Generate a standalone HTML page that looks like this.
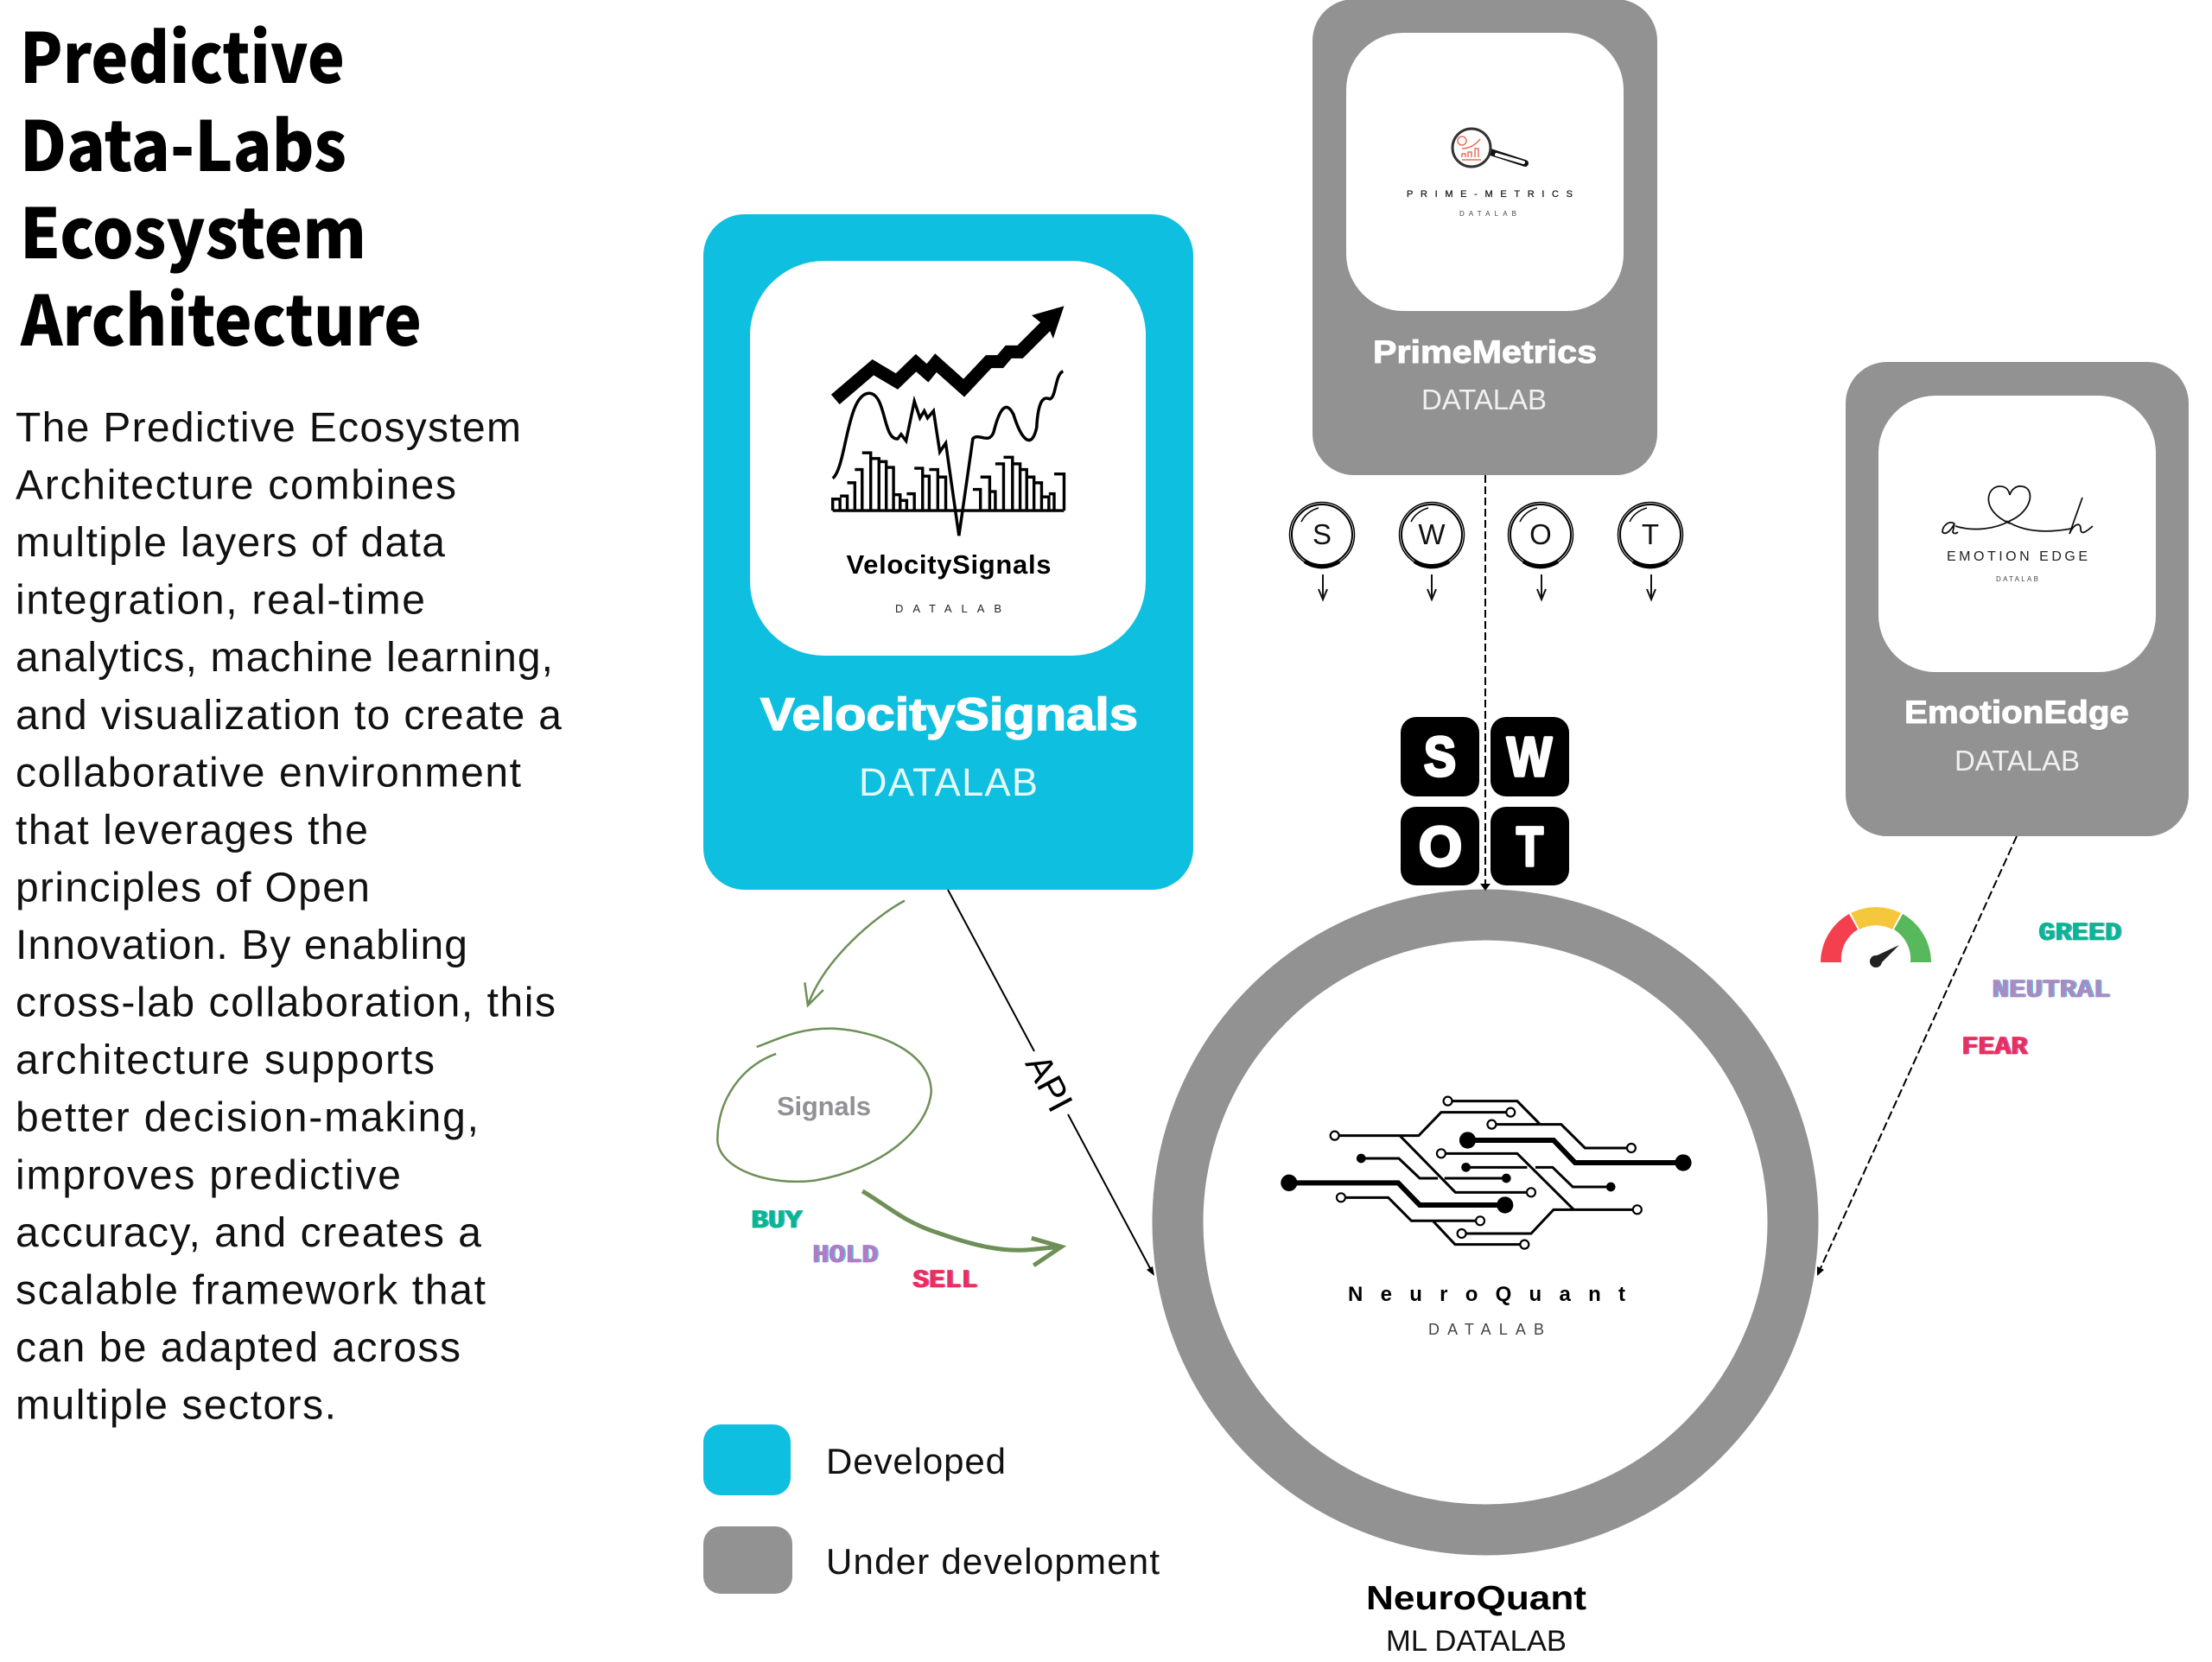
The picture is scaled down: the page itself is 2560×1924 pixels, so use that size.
<!DOCTYPE html>
<html><head><meta charset="utf-8"><style>
html,body{margin:0;padding:0;background:#fff;width:2560px;height:1924px;overflow:hidden}
svg{display:block}
text{font-family:"Liberation Sans",sans-serif}
.t{font-family:"Noto Sans CJK JP","Liberation Sans",sans-serif;font-weight:900;font-size:80px;fill:#000}
.b{font-size:48px;fill:#111}
.px{font-family:"Liberation Mono",monospace;font-weight:700;stroke-width:.8px}
.ns{vector-effect:non-scaling-stroke}
</style></head><body>
<svg xmlns="http://www.w3.org/2000/svg" width="2560" height="1924" viewBox="0 0 2560 1924">
<rect width="2560" height="1924" fill="#fff"/>
<!-- title -->
<text class="t" x="23" y="96" textLength="376" lengthAdjust="spacingAndGlyphs">Predictive</text>
<text class="t" x="23" y="198" textLength="378" lengthAdjust="spacingAndGlyphs">Data-Labs</text>
<text class="t" x="23" y="299" textLength="401" lengthAdjust="spacingAndGlyphs">Ecosystem</text>
<text class="t" x="24" y="400" textLength="464" lengthAdjust="spacingAndGlyphs">Architecture</text>
<!-- body -->
<g class="b">
<text class="b" x="18" y="511" textLength="585">The Predictive Ecosystem</text>
<text class="b" x="18" y="577.6" textLength="510">Architecture combines</text>
<text class="b" x="18" y="644.1" textLength="497">multiple layers of data</text>
<text class="b" x="18" y="710.7" textLength="474">integration, real-time</text>
<text class="b" x="18" y="777.2" textLength="622">analytics, machine learning,</text>
<text class="b" x="18" y="843.8" textLength="632">and visualization to create a</text>
<text class="b" x="18" y="910.4" textLength="585">collaborative environment</text>
<text class="b" x="18" y="976.9" textLength="408">that leverages the</text>
<text class="b" x="18" y="1043.5" textLength="410">principles of Open</text>
<text class="b" x="18" y="1110" textLength="523">Innovation. By enabling</text>
<text class="b" x="18" y="1176.6" textLength="625">cross-lab collaboration, this</text>
<text class="b" x="18" y="1243.2" textLength="485">architecture supports</text>
<text class="b" x="18" y="1309.7" textLength="536">better decision-making,</text>
<text class="b" x="18" y="1376.3" textLength="446">improves predictive</text>
<text class="b" x="18" y="1442.8" textLength="539">accuracy, and creates a</text>
<text class="b" x="18" y="1509.4" textLength="544">scalable framework that</text>
<text class="b" x="18" y="1576" textLength="515">can be adapted across</text>
<text class="b" x="18" y="1642.5" textLength="371">multiple sectors.</text>
</g>

<!-- Velocity card -->
<rect x="814" y="248" width="567" height="782" rx="48" fill="#0fbfe0"/>
<rect x="868" y="302" width="458" height="457" rx="86" fill="#fff"/>
<g transform="translate(800,240) scale(.3825,.5102)">
 <path d="M436 436 L550 363 L622 395 L680 353 L715 376 L740 353 L825 410 L900 350 L935 350 L960 328 L995 328 L1075 268" fill="none" stroke="#000" class="ns" style="stroke-width:15px"/>
 <path d="M1128 224 L1030 245 L1058 262 L1085 280 L1095 298Z" fill="#000"/>
 <path d="M428 615 C470 590 470 420 540 422 C590 425 580 530 625 525 L635 515 L650 530 L675 440 L692 478 L705 462 L715 478 L733 462 L752 555 L770 535 L810 745 L852 525 C870 510 900 540 915 510 C935 450 955 440 975 470 C1000 530 1030 550 1045 500 C1050 430 1070 430 1085 435 C1105 430 1100 380 1125 372" fill="none" stroke="#000" class="ns" style="stroke-width:3.5px"/>
 <path d="M428 688 H1128 M428 688 V662 H450 V688 M450 655 H472 V688 M472 625 H495 V688 M495 595 H517 V688 M517 557 H543 V688 M543 570 H568 V688 M568 577 H590 V688 M590 590 H612 V688 M612 652 H632 V688 M632 665 H652 V688 M652 650 H675 V688 M675 592 H700 V688 M700 610 H720 V688 M720 595 H746 V688 M746 612 H770 V688 M852 640 H875 V688 M875 612 H903 V688 M903 645 H920 V688 M920 582 H945 V688 M945 567 H972 V688 M972 582 H995 V688 M995 595 H1015 V688 M1015 612 H1037 V688 M1037 625 H1060 V688 M1060 657 H1082 V688 M1082 650 H1098 V688 M1098 605 H1128 V688" fill="none" stroke="#000" class="ns" style="stroke-width:3.4px"/>
</g>
<text x="979.5" y="664" font-size="31" font-weight="700" textLength="237" fill="#000">VelocitySignals</text>
<text x="1036" y="709" font-size="13" textLength="123" fill="#222">DATALAB</text>
<text x="880" y="845" font-size="53" font-weight="700" textLength="437" lengthAdjust="spacingAndGlyphs" fill="#fff" stroke="#fff" stroke-width="1.4">VelocitySignals</text>
<text x="994" y="921" font-size="45" textLength="207" fill="#e6f9fd">DATALAB</text>

<!-- Prime card -->
<rect x="1519" y="-1" width="399" height="551" rx="48" fill="#929292"/>
<rect x="1558" y="38" width="321" height="322" rx="66" fill="#fff"/>
<line x1="1725" y1="176" x2="1765" y2="189" stroke="#111" stroke-width="8" stroke-linecap="round"/>
<line x1="1732" y1="179" x2="1763" y2="188" stroke="#fff" stroke-width="4" stroke-linecap="round"/>
<circle cx="1703" cy="171" r="22" fill="#fff" stroke="#333" stroke-width="3"/>
<circle cx="1692" cy="163" r="5" fill="none" stroke="#e8705f" stroke-width="1.5"/>
<path d="M1692 182V178H1696V182M1699 182V176H1703V182M1707 182V172H1711V182M1692 185H1714M1692 172Q1704 172 1713 161" fill="none" stroke="#e8705f" stroke-width="1.5"/>
<text x="1628" y="228" font-size="11" textLength="192" fill="#222" stroke="#222" stroke-width=".3">PRIME-METRICS</text>
<text x="1689" y="250" font-size="8" textLength="66" fill="#444">DATALAB</text>
<text x="1589" y="420" font-size="37" font-weight="700" textLength="259" lengthAdjust="spacingAndGlyphs" fill="#fff" stroke="#fff" stroke-width="1">PrimeMetrics</text>
<text x="1645" y="474" font-size="33" textLength="145" fill="#f0f0f0">DATALAB</text>

<!-- Emotion card -->
<rect x="2136" y="419" width="397" height="549" rx="48" fill="#929292"/>
<rect x="2174" y="458" width="321" height="320" rx="66" fill="#fff"/>
<path d="M2326 606 C2290 590 2300 562 2315 563 C2322 563 2325 568 2326 573 C2328 566 2334 562 2340 563 C2356 565 2352 592 2326 603 C2310 612 2285 616 2263 609 M2322 603 C2345 618 2375 616 2397 612" fill="none" stroke="#111" stroke-width="1.8"/>
<path d="M2262 606 C2254 602 2248 610 2248 616 C2252 620 2258 614 2262 606 L2260 616 Q2262 619 2266 616 M2410 576 L2395 618 C2400 606 2408 604 2408 612 C2408 620 2414 616 2422 609" fill="none" stroke="#111" stroke-width="1.8"/>
<text x="2253" y="649" font-size="16" textLength="163" fill="#222">EMOTION EDGE</text>
<text x="2310" y="673" font-size="8" textLength="49" fill="#444">DATALAB</text>
<text x="2204" y="837" font-size="37" font-weight="700" textLength="260" lengthAdjust="spacingAndGlyphs" fill="#fff" stroke="#fff" stroke-width="1">EmotionEdge</text>
<text x="2262" y="892" font-size="33" textLength="145" fill="#f0f0f0">DATALAB</text>

<!-- Ring -->
<circle cx="1719" cy="1415" r="356" fill="#fff" stroke="#929292" stroke-width="59"/>
<!-- circuit -->
<g transform="translate(1400,1200) scale(.3827,.3333)" fill="none" stroke="#000">
 <path class="ns" style="stroke-width:6px" d="M240 508H570L635 585H893M780 360H1040L1105 438H1432"/>
 <path class="ns" style="stroke-width:3px" d="M458 423H572L635 492H690M710 492H897M775 454H960M985 454H1037L1098 522H1213M720 224H930L997 302M910 263H700L632 344H378M853 305H1063L1135 387H1275M575 344L743 541H972M700 406H930L1100 600M1293 601H1040L972 684H762M397 559H540L610 640H818M675 640L742 722H952"/>
 <g fill="#000" stroke="none">
  <ellipse cx="240" cy="508" rx="25" ry="29"/><ellipse cx="893" cy="585" rx="25" ry="29"/><ellipse cx="780" cy="360" rx="25" ry="29"/><ellipse cx="1432" cy="438" rx="25" ry="29"/>
  <ellipse cx="458" cy="423" rx="14" ry="16"/><ellipse cx="897" cy="492" rx="14" ry="16"/><ellipse cx="775" cy="454" rx="14" ry="16"/><ellipse cx="1213" cy="522" rx="14" ry="16"/>
 </g>
 <g fill="#fff" class="ns" style="stroke-width:2.2px">
  <ellipse class="ns" cx="720" cy="224" rx="13" ry="15"/><ellipse class="ns" cx="910" cy="263" rx="13" ry="15"/><ellipse class="ns" cx="853" cy="305" rx="13" ry="15"/><ellipse class="ns" cx="378" cy="344" rx="13" ry="15"/><ellipse class="ns" cx="1275" cy="387" rx="13" ry="15"/><ellipse class="ns" cx="700" cy="406" rx="13" ry="15"/><ellipse class="ns" cx="972" cy="541" rx="13" ry="15"/><ellipse class="ns" cx="397" cy="559" rx="13" ry="15"/><ellipse class="ns" cx="1293" cy="601" rx="13" ry="15"/><ellipse class="ns" cx="818" cy="640" rx="13" ry="15"/><ellipse class="ns" cx="762" cy="684" rx="13" ry="15"/><ellipse class="ns" cx="952" cy="722" rx="13" ry="15"/>
 </g>
</g>
<text x="1560" y="1506" font-size="24" font-weight="700" textLength="321" fill="#000">NeuroQuant</text>
<text x="1653" y="1545" font-size="18" textLength="134" fill="#444">DATALAB</text>
<text x="1581" y="1863" font-size="39" font-weight="700" textLength="255" lengthAdjust="spacingAndGlyphs" fill="#000">NeuroQuant</text>
<text x="1604" y="1911" font-size="34" textLength="209" lengthAdjust="spacingAndGlyphs" fill="#111">ML DATALAB</text>

<!-- SWOT tiles -->
<rect x="1621" y="830" width="91" height="92" rx="18" fill="#000"/>
<rect x="1725" y="830" width="91" height="92" rx="18" fill="#000"/>
<rect x="1621" y="934" width="91" height="91" rx="18" fill="#000"/>
<rect x="1725" y="934" width="91" height="91" rx="18" fill="#000"/>
<g font-size="64" font-weight="700" fill="#fff" stroke="#fff" stroke-width="3.5" stroke-linejoin="round">
<text x="1648" y="898" textLength="37" lengthAdjust="spacingAndGlyphs">S</text>
<text x="1744" y="898" textLength="52" lengthAdjust="spacingAndGlyphs">W</text>
<text x="1642" y="1002" textLength="50" lengthAdjust="spacingAndGlyphs">O</text>
<text x="1755" y="1002" textLength="31" lengthAdjust="spacingAndGlyphs">T</text>
</g>

<!-- dashed connector -->
<line x1="1719" y1="550" x2="1719" y2="1024" stroke="#000" stroke-width="2" stroke-dasharray="9 4"/>
<path d="M1713 1023H1725L1719 1031Z" fill="#000"/>

<!-- SWOT circles -->
<g fill="#fff" stroke="#000">
<circle cx="1530" cy="619" r="35" stroke-width="2"/><circle cx="1657" cy="619" r="35" stroke-width="2"/><circle cx="1783" cy="619" r="35" stroke-width="2"/><circle cx="1910" cy="619" r="35" stroke-width="2"/>
<g fill="none" stroke-width="1.5">
<circle cx="1530" cy="619" r="37.5"/><circle cx="1657" cy="619" r="37.5"/><circle cx="1783" cy="619" r="37.5"/><circle cx="1910" cy="619" r="37.5"/>
</g>
<g fill="none" stroke-width="4.5">
<path d="M1510 650A36 36 0 0 0 1550 650"/><path d="M1637 650A36 36 0 0 0 1677 650"/><path d="M1763 650A36 36 0 0 0 1803 650"/><path d="M1890 650A36 36 0 0 0 1930 650"/>
</g>
<g fill="none" stroke-width="1.5">
<path d="M1506 604Q1512 592 1526 588"/><path d="M1633 604Q1639 592 1653 588"/><path d="M1759 604Q1765 592 1779 588"/><path d="M1886 604Q1892 592 1906 588"/>
</g>
</g>
<g font-size="33" fill="#111" text-anchor="middle">
<text x="1530" y="630">S</text><text x="1657" y="630">W</text><text x="1783" y="630">O</text><text x="1910" y="630">T</text>
</g>
<g fill="none" stroke="#111" stroke-width="2">
<path d="M1531 665V693M1526 682L1531 694L1536 682"/><path d="M1657 665V693M1652 682L1657 694L1662 682"/><path d="M1784 665V693M1779 682L1784 694L1789 682"/><path d="M1911 665V693M1906 682L1911 694L1916 682"/>
</g>

<!-- API connector -->
<path d="M1097 1030L1197 1217M1236 1290L1332 1470" stroke="#000" stroke-width="2" fill="none"/>
<path d="M1336 1477L1327 1470L1334 1466Z" fill="#000"/>
<text transform="translate(1214,1254) rotate(62)" font-size="42" text-anchor="middle" y="14" fill="#000">API</text>

<!-- Emotion connector -->
<line x1="2334" y1="968" x2="2107" y2="1468" stroke="#000" stroke-width="2" stroke-dasharray="10 4"/>
<path d="M2103 1477L2103 1466L2111 1470Z" fill="#000"/>

<!-- gauge -->
<path d="M2107 1114A65 65 0 0 1 2140 1058L2150 1076A40 40 0 0 0 2131 1114Z" fill="#f43f4e"/>
<path d="M2142 1057A65 65 0 0 1 2200 1057L2190 1076A40 40 0 0 0 2152 1076Z" fill="#f5c73d"/>
<path d="M2202 1058A65 65 0 0 1 2235 1114H2211A40 40 0 0 0 2192 1076Z" fill="#58b85c"/>
<circle cx="2171" cy="1113" r="7" fill="#222"/><path d="M2198 1094L2168 1108L2176 1116Z" fill="#222"/>

<!-- emotion labels -->
<g class="px" font-size="30">
<text class="px" x="2361" y="1088" textLength="96" lengthAdjust="spacingAndGlyphs" fill="#6aa8e0">GREED</text><text class="px" x="2359" y="1088" textLength="96" lengthAdjust="spacingAndGlyphs" fill="#0bb58f" stroke="#0bb58f">GREED</text>
<text class="px" x="2307" y="1154" textLength="137" lengthAdjust="spacingAndGlyphs" fill="#58bfe0">NEUTRAL</text><text class="px" x="2305" y="1154" textLength="137" lengthAdjust="spacingAndGlyphs" fill="#a98bc4" stroke="#a98bc4">NEUTRAL</text>
<text class="px" x="2272" y="1220" textLength="76" lengthAdjust="spacingAndGlyphs" fill="#c060c0">FEAR</text><text class="px" x="2270" y="1220" textLength="76" lengthAdjust="spacingAndGlyphs" fill="#e8305e" stroke="#e8305e">FEAR</text>
</g>

<!-- signals -->
<g transform="translate(800,1020) scale(.357,.3333)" fill="none" stroke="#6e8f58">
 <path class="ns" style="stroke-width:2.5px" d="M692 68C600 120 430 270 378 432M368 352L378 432L428 378"/>
 <path class="ns" style="stroke-width:2.5px" d="M212 576C290 545 350 510 460 512C600 520 775 590 778 730C770 860 620 1000 400 1040C250 1060 90 1000 85 900C85 750 170 640 275 600"/>
 <path class="ns" style="stroke-width:5px" d="M555 1077C640 1130 690 1185 800 1222C900 1260 1000 1290 1100 1280L1195 1270M1103 1240L1200 1270L1110 1335"/>
</g>
<text x="899" y="1291" font-size="31" font-weight="700" textLength="109" fill="#909095">Signals</text>
<g class="px" font-size="30">
<text class="px" x="871" y="1421" textLength="59" lengthAdjust="spacingAndGlyphs" fill="#3ab8e0">BUY</text><text class="px" x="869" y="1421" textLength="59" lengthAdjust="spacingAndGlyphs" fill="#0bb58f" stroke="#0bb58f">BUY</text>
<text class="px" x="942" y="1461" textLength="76" lengthAdjust="spacingAndGlyphs" fill="#58bfe0">HOLD</text><text class="px" x="940" y="1461" textLength="76" lengthAdjust="spacingAndGlyphs" fill="#b07cc8" stroke="#b07cc8">HOLD</text>
<text class="px" x="1058" y="1490" textLength="75" lengthAdjust="spacingAndGlyphs" fill="#d060c0">SELL</text><text class="px" x="1056" y="1490" textLength="75" lengthAdjust="spacingAndGlyphs" fill="#e8305e" stroke="#e8305e">SELL</text>
</g>

<!-- legend -->
<rect x="814" y="1649" width="101" height="82" rx="20" fill="#0fbfe0"/>
<rect x="814" y="1767" width="103" height="78" rx="20" fill="#929292"/>
<text x="956" y="1706" font-size="42" textLength="208" fill="#111">Developed</text>
<text x="956" y="1822" font-size="42" textLength="386" fill="#111">Under development</text>
</svg>
</body></html>
